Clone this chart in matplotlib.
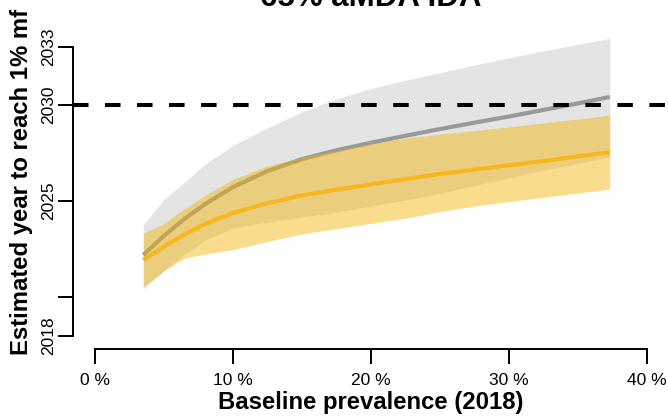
import matplotlib
matplotlib.use("Agg")
import matplotlib.pyplot as plt

plt.rcParams['font.family'] = ['Liberation Sans', 'DejaVu Sans']

# ---- data ----
baseline_prev = [3.5, 5, 6.5, 8, 10, 12.5, 15, 17.5, 20, 22.5, 25, 27.5, 30, 32.5, 35, 37.3]

gray_median = [2022.20, 2023.20, 2024.08, 2024.85, 2025.72, 2026.55, 2027.17, 2027.63,
               2028.02, 2028.38, 2028.73, 2029.06, 2029.38, 2029.72, 2030.06, 2030.39]
gray_lower = [2020.44, 2021.37, 2022.25, 2022.98, 2023.60, 2023.91, 2024.17, 2024.43,
              2024.74, 2025.05, 2025.40, 2025.80, 2026.20, 2026.60, 2026.95, 2027.28]
gray_upper = [2023.75, 2025.09, 2025.98, 2026.92, 2027.88, 2028.79, 2029.62, 2030.30,
              2030.82, 2031.26, 2031.65, 2032.05, 2032.42, 2032.78, 2033.12, 2033.43]

gold_median = [2021.94, 2022.64, 2023.27, 2023.82, 2024.38, 2024.89, 2025.29, 2025.59,
               2025.86, 2026.14, 2026.40, 2026.63, 2026.85, 2027.07, 2027.31, 2027.53]
gold_lower = [2020.54, 2021.40, 2022.04, 2022.25, 2022.48, 2022.90, 2023.29, 2023.57,
              2023.84, 2024.11, 2024.45, 2024.74, 2024.97, 2025.19, 2025.41, 2025.62]
gold_upper = [2023.34, 2023.83, 2024.61, 2025.31, 2026.12, 2026.82, 2027.26, 2027.63,
              2027.97, 2028.26, 2028.47, 2028.65, 2028.84, 2029.05, 2029.25, 2029.45]

target_year = 2030
x_ticks = [0, 10, 20, 30, 40]
x_tick_labels = ["0 %", "10 %", "20 %", "30 %", "40 %"]
y_ticks = [2018, 2020, 2025, 2030, 2033]
y_tick_labels = ["2018", "", "2025", "2030", "2033"]

title = "65% aMDA IDA"
x_label = "Baseline prevalence (2018)"
y_label = "Estimated year to reach 1% mf"

# ---- layout (pixels of a 668x419 canvas) ----
W, H = 668, 419
fig = plt.figure(figsize=(W / 100, H / 100), dpi=100)
left_px, right_px, top_px, bottom_px = 72.9, 668.0, 35.0, 349.3
ax = fig.add_axes([left_px / W, 1 - bottom_px / H,
                   (right_px - left_px) / W, (bottom_px - top_px) / H])

px_per_pct = 13.8
px_per_year = 19.29
x0_px = 95.0          # pixel of 0 %
y2018_px = 336.0      # pixel of 2018
ax.set_xlim((left_px - x0_px) / px_per_pct, (right_px - x0_px) / px_per_pct)
ax.set_ylim(2018 - (bottom_px - y2018_px) / px_per_year,
            2018 + (y2018_px - top_px) / px_per_year)

gold = '#F5B400'
ax.fill_between(baseline_prev, gray_lower, gray_upper, color='#E4E4E4', lw=0, zorder=1)
ax.plot(baseline_prev, gray_median, color='#999999', lw=3.0, zorder=2,
        solid_capstyle='butt', solid_joinstyle='round')
ax.fill_between(baseline_prev, gold_lower, gold_upper, color=gold, alpha=0.45, lw=0, zorder=3)
ax.plot(baseline_prev, gold_median, color='#F6B81E', lw=3.0, zorder=4,
        solid_capstyle='butt', solid_joinstyle='round')

ax.axhline(target_year, color='black', lw=2.9, dashes=(3.85, 4.1),
           dash_capstyle='butt', zorder=5)

for s in ['top', 'right']:
    ax.spines[s].set_visible(False)
ax.spines['left'].set_bounds(2018, 2033)
ax.spines['bottom'].set_bounds(0, 40)
for s in ['left', 'bottom']:
    ax.spines[s].set_linewidth(1.4)

ax.set_xticks(x_ticks)
ax.set_xticklabels(x_tick_labels, fontsize=12.5)
ax.set_yticks(y_ticks)
ax.set_yticklabels(y_tick_labels, fontsize=12.5, rotation=90, va='center')
ax.tick_params(axis='x', length=11, width=1.4, pad=6.0)
ax.tick_params(axis='y', length=11, width=1.4, pad=1.0)

ax.set_xlabel(x_label, fontsize=17.2, fontweight='bold')
ax.xaxis.label.set_va('baseline')
ax.xaxis.set_label_coords(0.5 * (95 + 647 - 2 * left_px) / (right_px - left_px),
                          (bottom_px - 409) / (bottom_px - top_px))
ax.set_ylabel(y_label, fontsize=17.2, fontweight='bold')
ax.yaxis.label.set_va('baseline')
ax.yaxis.set_label_coords((28.3 - left_px) / (right_px - left_px),
                          (bottom_px - 181.5) / (bottom_px - top_px))

fig.text(371 / W, 1 - 6 / H, title, ha='center', va='baseline',
         fontsize=22.5, fontweight='bold')

fig.savefig('out.png', dpi=100)
